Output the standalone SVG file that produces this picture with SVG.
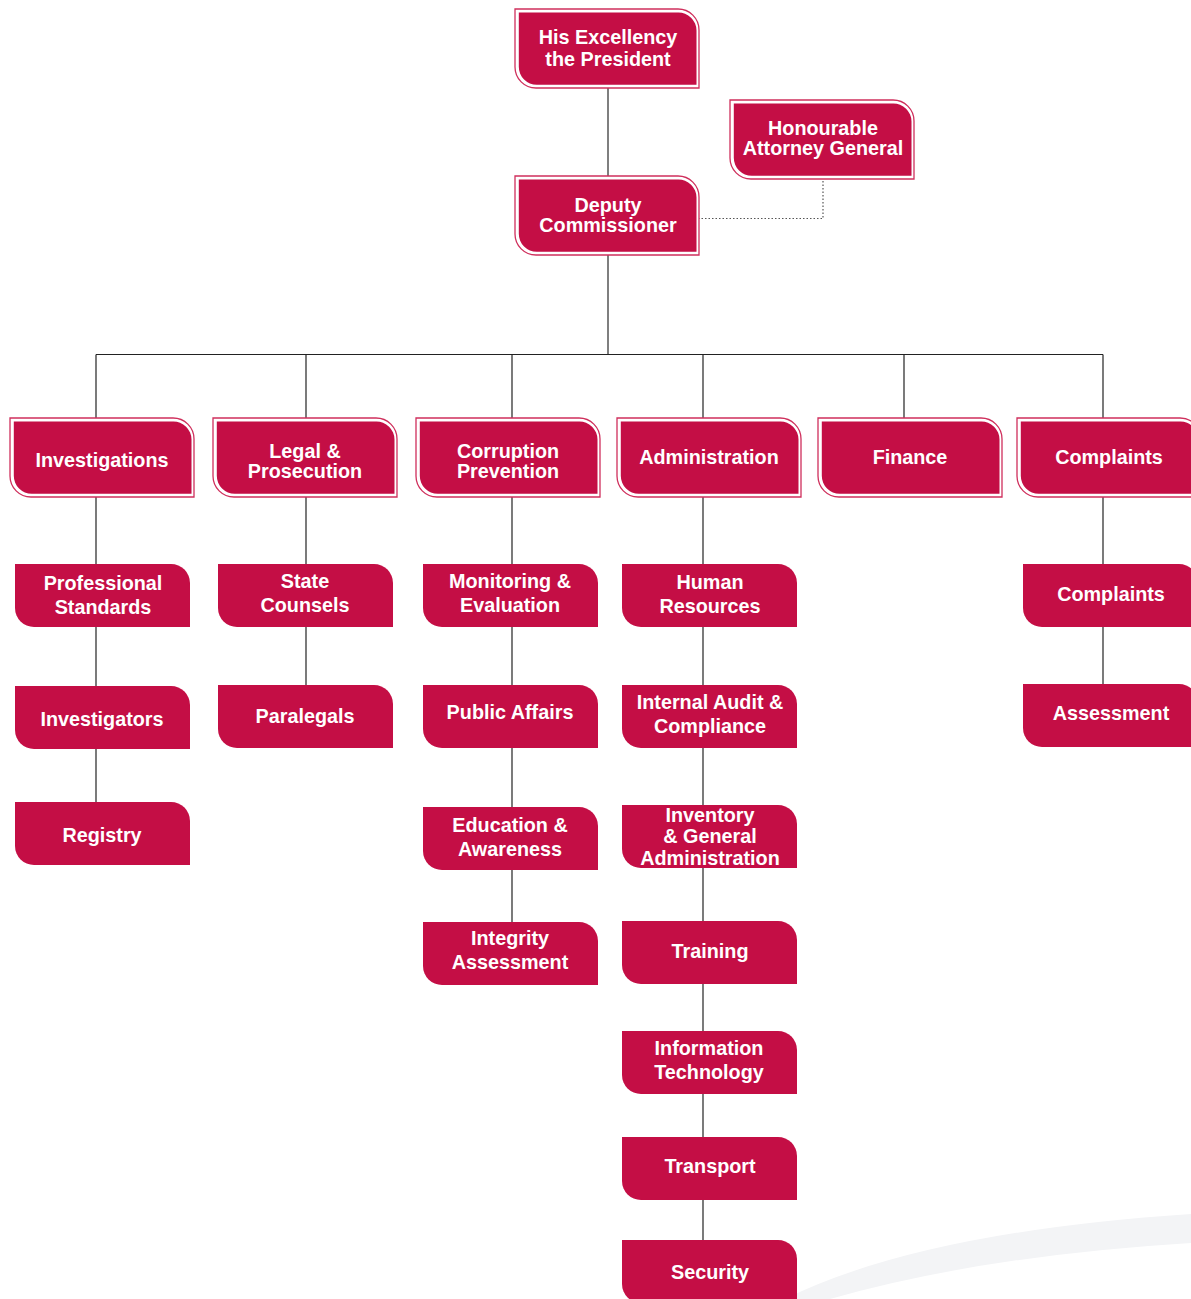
<svg xmlns="http://www.w3.org/2000/svg" xmlns:xlink="http://www.w3.org/1999/xlink" width="1191" height="1299" viewBox="0 0 1191 1299">
<style>
.t{font-family:"Liberation Sans",Arial,sans-serif;font-weight:bold;font-size:19.8px;fill:#ffffff;text-anchor:middle}
.ln{stroke:#222;stroke-width:1.2;fill:none}
.tr{stroke:#555;stroke-width:1.5;fill:none}
.dot{stroke:#555;stroke-width:1.2;fill:none;stroke-dasharray:1.5 2}
.fill{fill:#c40e45}
.outl{fill:#ffffff;stroke:#cf2f5c;stroke-width:1.3}
</style>
<defs>
<g id="top">
<path class="outl" d="M0 0 H163 A21 21 0 0 1 184 21 V79 H21 A21 21 0 0 1 0 58 Z"/>
<path class="fill" d="M3.8 3.6 H163 A18 18 0 0 1 181.5 21.6 V75.8 H21.8 A18 18 0 0 1 3.8 57.8 Z"/>
</g>
<path id="sub" class="fill" d="M0 0 H156 A19 19 0 0 1 175 19 V63 H19 A19 19 0 0 1 0 44 Z"/>
</defs>
<rect width="1191" height="1299" fill="#ffffff"/>
<path d="M785 1299 Q920 1232 1191 1214 L1191 1243 Q980 1256 830 1299 Z" fill="#f3f4f6"/>
<g id="connectors">
<line class="tr" x1="608" y1="88" x2="608" y2="176"/>
<line class="tr" x1="608" y1="255" x2="608" y2="354.5"/>
<line class="ln" x1="96" y1="354.5" x2="1103" y2="354.5"/>
<line class="ln" x1="96" y1="354.5" x2="96" y2="802"/>
<line class="ln" x1="306" y1="354.5" x2="306" y2="685"/>
<line class="ln" x1="512" y1="354.5" x2="512" y2="922"/>
<line class="ln" x1="703" y1="354.5" x2="703" y2="1240"/>
<line class="ln" x1="904" y1="354.5" x2="904" y2="418"/>
<line class="ln" x1="1103" y1="354.5" x2="1103" y2="684"/>
<path class="dot" d="M698 218.5 H823 V180"/>
</g>
<g id="president"><use xlink:href="#top" x="515" y="9"/><text class="t" x="608" y="44">His Excellency</text><text class="t" x="608" y="66">the President</text></g>
<g id="attorney-general"><use xlink:href="#top" x="730" y="100"/><text class="t" x="823" y="135">Honourable</text><text class="t" x="823" y="155">Attorney General</text></g>
<g id="deputy"><use xlink:href="#top" x="515" y="176"/><text class="t" x="608" y="212">Deputy</text><text class="t" x="608" y="232">Commissioner</text></g>
<g id="investigations"><use xlink:href="#top" x="10" y="418"/><text class="t" x="102" y="467">Investigations</text></g>
<g id="legal"><use xlink:href="#top" x="213" y="418"/><text class="t" x="305" y="458">Legal &amp;</text><text class="t" x="305" y="478">Prosecution</text></g>
<g id="corruption-prevention"><use xlink:href="#top" x="416" y="418"/><text class="t" x="508" y="458">Corruption</text><text class="t" x="508" y="478">Prevention</text></g>
<g id="administration"><use xlink:href="#top" x="617" y="418"/><text class="t" x="709" y="464">Administration</text></g>
<g id="finance"><use xlink:href="#top" x="818" y="418"/><text class="t" x="910" y="464">Finance</text></g>
<g id="complaints-dept"><use xlink:href="#top" x="1017" y="418"/><text class="t" x="1109" y="464">Complaints</text></g>
<g id="professional-standards"><use xlink:href="#sub" x="15" y="564"/><text class="t" x="103" y="590">Professional</text><text class="t" x="103" y="614">Standards</text></g>
<g id="investigators"><use xlink:href="#sub" x="15" y="686"/><text class="t" x="102" y="726">Investigators</text></g>
<g id="registry"><use xlink:href="#sub" x="15" y="802"/><text class="t" x="102" y="842">Registry</text></g>
<g id="state-counsels"><use xlink:href="#sub" x="218" y="564"/><text class="t" x="305" y="588">State</text><text class="t" x="305" y="612">Counsels</text></g>
<g id="paralegals"><use xlink:href="#sub" x="218" y="685"/><text class="t" x="305" y="723">Paralegals</text></g>
<g id="monitoring"><use xlink:href="#sub" x="423" y="564"/><text class="t" x="510" y="588">Monitoring &amp;</text><text class="t" x="510" y="612">Evaluation</text></g>
<g id="public-affairs"><use xlink:href="#sub" x="423" y="685"/><text class="t" x="510" y="719">Public Affairs</text></g>
<g id="education"><use xlink:href="#sub" x="423" y="807"/><text class="t" x="510" y="832">Education &amp;</text><text class="t" x="510" y="856">Awareness</text></g>
<g id="integrity"><use xlink:href="#sub" x="423" y="922"/><text class="t" x="510" y="945">Integrity</text><text class="t" x="510" y="969">Assessment</text></g>
<g id="human-resources"><use xlink:href="#sub" x="622" y="564"/><text class="t" x="710" y="589">Human</text><text class="t" x="710" y="613">Resources</text></g>
<g id="internal-audit"><use xlink:href="#sub" x="622" y="685"/><text class="t" x="710" y="709">Internal Audit &amp;</text><text class="t" x="710" y="733">Compliance</text></g>
<g id="inventory"><use xlink:href="#sub" x="622" y="805"/><text class="t" x="710" y="822">Inventory</text><text class="t" x="710" y="843">&amp; General</text><text class="t" x="710" y="865">Administration</text></g>
<g id="training"><use xlink:href="#sub" x="622" y="921"/><text class="t" x="710" y="958">Training</text></g>
<g id="it"><use xlink:href="#sub" x="622" y="1031"/><text class="t" x="709" y="1055">Information</text><text class="t" x="709" y="1079">Technology</text></g>
<g id="transport"><use xlink:href="#sub" x="622" y="1137"/><text class="t" x="710" y="1173">Transport</text></g>
<g id="security"><use xlink:href="#sub" x="622" y="1240"/><text class="t" x="710" y="1279">Security</text></g>
<g id="complaints"><use xlink:href="#sub" x="1023" y="564"/><text class="t" x="1111" y="601">Complaints</text></g>
<g id="assessment"><use xlink:href="#sub" x="1023" y="684"/><text class="t" x="1111" y="720">Assessment</text></g>
</svg>
